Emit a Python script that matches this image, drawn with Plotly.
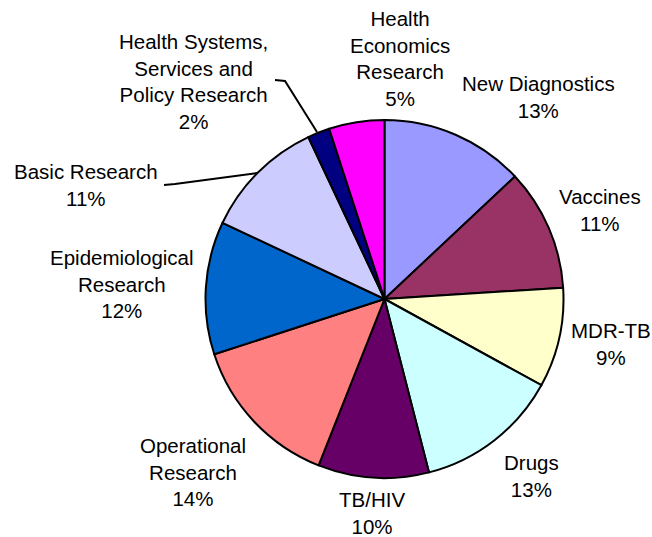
import plotly.graph_objects as go

categories = ["New Diagnostics", "Vaccines", "MDR-TB", "Drugs", "TB/HIV",
              "Operational Research", "Epidemiological Research", "Basic Research",
              "Health Systems, Services and Policy Research", "Health Economics Research"]
values = [13, 11, 9, 13, 10, 14, 12, 11, 2, 5]
label_text = ["New Diagnostics", "Vaccines", "MDR-TB", "Drugs", "TB/HIV",
              "Operational<br>Research", "Epidemiological<br>Research", "Basic Research",
              "Health Systems,<br>Services and<br>Policy Research", "Health<br>Economics<br>Research"]
colors = ["#9999FF", "#993366", "#FFFFCC", "#CCFFFF", "#660066",
          "#FF8080", "#0066CC", "#CCCCFF", "#000080", "#FF00FF"]

W, H = 652, 537
cx, cy, r = 384.5, 299, 179

fig = go.Figure(go.Pie(
    labels=categories, values=values, sort=False, direction="clockwise",
    rotation=0, textinfo="none", hoverinfo="label+percent",
    marker=dict(colors=colors, line=dict(color="black", width=2)),
    domain=dict(x=[(cx - r) / W, (cx + r) / W], y=[(H - cy - r) / H, (H - cy + r) / H]),
    showlegend=False,
))

# label centre positions in pixels (layout only)
label_pos = [(538, 97), (600, 210), (611, 344), (531, 476), (372, 513),
             (193, 472), (122, 284), (86, 185), (193, 81), (400, 58)]
total = sum(values)
for txt, v, (x, y) in zip(label_text, values, label_pos):
    fig.add_annotation(x=x / W, y=1 - y / H, xref="paper", yref="paper",
                       text=f"{txt}<br>{round(100 * v / total)}%", showarrow=False,
                       font=dict(family="Liberation Sans, Arial", size=20.5, color="black"),
                       align="center", xanchor="center", yanchor="middle")

def px_path(pts):
    return "M " + " L ".join(f"{x / W},{1 - y / H}" for x, y in pts)

for pts in [[(275, 80), (285, 81), (317, 132)], [(164, 185), (175, 184), (257, 173)]]:
    fig.add_shape(type="path", xref="paper", yref="paper", path=px_path(pts),
                  line=dict(color="black", width=2))

fig.update_layout(width=W, height=H, margin=dict(l=0, r=0, t=0, b=0),
                  paper_bgcolor="white", plot_bgcolor="white")
fig.write_html("out.html", config={"displayModeBar": False},
               post_script="document.body.style.margin='0';document.body.style.overflow='hidden';")
